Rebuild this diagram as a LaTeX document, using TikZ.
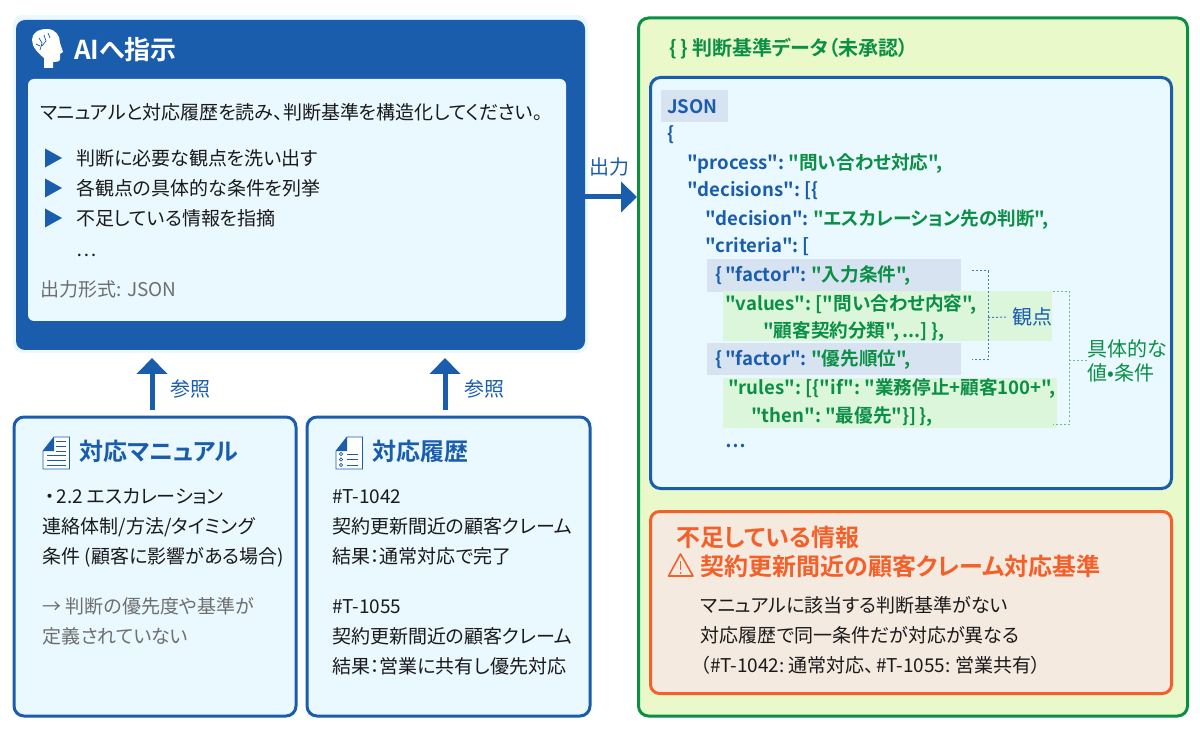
\documentclass[tikz,border=0pt]{standalone}
\usepackage{fontspec}
\defaultfontfeatures[\rmfamily]{}
\setmainfont{Noto Sans CJK JP}[RawFeature=+palt,BoldFont={Noto Sans CJK JP Bold}]
\usetikzlibrary{arrows.meta}
\definecolor{bl}{HTML}{1A5DAD}
\definecolor{lb}{HTML}{EAF8FF}
\definecolor{gr}{HTML}{0A8F45}
\definecolor{gp}{HTML}{E9F9CA}
\definecolor{or}{HTML}{F4602A}
\definecolor{op}{HTML}{F5EAE0}
\definecolor{hb}{HTML}{D8E3F1}
\definecolor{hg}{HTML}{DCF6DC}
\definecolor{tx}{HTML}{1A1A1A}
\definecolor{gy}{HTML}{6E6E6E}
\tikzset{x=1pt,y=-1pt,
 txt/.style={anchor=west,inner sep=0pt,text=tx,text height=19pt,text depth=4.6pt,font=\fontsize{19}{22}\selectfont},
 jb/.style={anchor=west,inner sep=0pt,text=bl,text height=18.6pt,text depth=4.5pt,yshift=1pt,font={\fontsize{18.6}{20}\selectfont\bfseries\spaceskip=.15em\relax}},
 panel/.style={draw=bl,line width=3pt,fill=lb,rounded corners=10pt},
 bigarrow/.style={draw=bl,line width=5pt,-{Triangle[length=16pt,width=30pt]}},
 dotb/.style={draw=bl!80,line width=1pt,dash pattern=on 2pt off 2pt},
 dotg/.style={draw=gr!60,line width=1pt,dash pattern=on 2pt off 2pt},
 hd/.style={anchor=west,inner sep=0pt,text=bl,font=\fontsize{24}{28}\selectfont\bfseries},
}
\newcommand{\Jg}[1]{\textcolor{gr}{#1}}
\begin{document}
\begin{tikzpicture}
\useasboundingbox (0,0) rectangle (1200,735);
\fill[white] (0,0) rectangle (1200,735);
% AI box
\fill[lb,rounded corners=10pt] (13,15) rectangle (588,353);
\fill[bl,rounded corners=9pt] (16,20) rectangle (585,350);
\coordinate (aibot) at (152,350);
\coordinate (aibot2) at (445,350);
\fill[lb,rounded corners=6pt] (28,79) rectangle (566,321);
% head icon
\fill[white] (44,68) -- (44,58) .. controls (38,53) and (32,47) .. (32,40) .. controls (32,33) and (38,29) .. (47,29) .. controls (56,29) and (60,36) .. (60,43) -- (63,52) -- (60,54) -- (60,59) .. controls (60,62) and (56,62) .. (53,62) -- (53,68) -- cycle;
\draw[bl,line width=.7pt] (39,38)--(42,43)--(40,50) (44,35)--(46,41)--(42,46) (48,33)--(50,38) (36,44)--(40,46);
\node[anchor=west,inner sep=0pt,text=white,font=\fontsize{26}{30}\selectfont\bfseries] (aititle) at (74,50) {AIへ指示};
\node[txt] (t1) at (40,112) {マニュアルと対応履歴を読み、判断基準を構造化してください。};
\foreach \y/\n/\s in {158/a/判断に必要な観点を洗い出す,188/b/各観点の具体的な条件を列挙,218/c/不足している情報を指摘}{
 \fill[bl] (45,\y-9.5) -- (62,\y) -- (45,\y+9.5) -- cycle;
 \node[txt] (l\n) at (76,\y) {\s};
}
\node[txt] (ld) at (76,249) {…};
\node[txt,text=gy] (fmt) at (40,289) {出力形式: JSON};
% Manual
\node[panel,minimum width=282pt,minimum height=299pt,inner sep=0pt] (man) at (155,566.5) {};
\node[panel,minimum width=283pt,minimum height=299pt,inner sep=0pt] (his) at (448.5,566.5) {};
% doc icons
\begin{scope}[bl,line width=.8pt]
\draw[fill=white] (43,451) -- (54,437) -- (69.5,437) -- (69.5,469) -- (43,469) -- cycle;
\fill (43,451) -- (54,437) -- (54,451) -- cycle;
\draw (56,441)--(66,441) (56,446)--(66,446) (56,451)--(66,451);
\draw (47,455)--(66,455) (47,460)--(66,460) (47,465)--(66,465);
\draw[fill=white] (336,451) -- (347,437) -- (362.5,437) -- (362.5,469) -- (336,469) -- cycle;
\fill (336,451) -- (347,437) -- (347,451) -- cycle;
\draw (347,454)--(358,454) (347,459.5)--(358,459.5) (347,465)--(358,465);
\draw (341,454) circle (1.6) (341,459.5) circle (1.6) (341,465) circle (1.6);
\end{scope}
\node[hd] (mt) at (79,451) {対応マニュアル};
\node[hd] (ht) at (372,451) {対応履歴};
\node[txt] (m1) at (45,496) {・\kern 2pt 2.2 エスカレーション};
\node[txt] (m2) at (42.5,526) {連絡体制/方法/タイミング};
\node[txt] (m3) at (42.5,556) {条件 (顧客に影響がある場合)};
\node[txt,text=gy] (m4) at (42.5,606) {→ 判断の優先度や基準が};
\node[txt,text=gy] (m5) at (42.5,636) {定義されていない};
\node[txt] (h1) at (332,496) {\#T-1042};
\node[txt] (h2) at (332,526) {契約更新間近の顧客クレーム};
\node[txt] (h3) at (332,556) {結果：通常対応で完了};
\node[txt] (h4) at (332,606) {\#T-1055};
\node[txt] (h5) at (332,636) {契約更新間近の顧客クレーム};
\node[txt] (h6) at (332,666) {結果：営業に共有し優先対応};
% Green panel
\node[draw=gr,line width=3pt,fill=gp,rounded corners=10pt,minimum width=549pt,minimum height=698pt,inner sep=0pt] (gpanel) at (913,367) {};
\node[anchor=west,inner sep=0pt,text=gr,font=\fontsize{20}{22}\selectfont\bfseries] (gt) at (669,49) {\{\,\} 判断基準データ（未承認）};
\node[panel,minimum width=521pt,minimum height=411pt,inner sep=0pt] (json) at (911,283) {};
\fill[hb] (661,90) rectangle (728,122);
\fill[hb] (707,259) rectangle (961,292);
\fill[hb] (707,343) rectangle (961,375);
\fill[hg] (723,291) rectangle (1052,341);
\fill[hg] (723,378) rectangle (1057,428);
\node[jb] (j0) at (667,107) {JSON};
\node[jb] (j1) at (667,134) {\{};
\node[jb] (j2) at (687,163) {"process": \Jg{"問い合わせ対応",}};
\node[jb] (j3) at (687,190) {"decisions": [\{};
\node[jb] (j4) at (705,219) {"decision": \Jg{"エスカレーション先の判断",}};
\node[jb] (j5) at (705,246) {"criteria": [};
\node[jb] (j6) at (715,275) {\{\kern 3pt "factor": \Jg{"入力条件",}};
\node[jb,text=gr] (j7) at (725,304) {"values": ["問い合わせ内容",};
\node[jb,text=gr] (j8) at (763,331) {"顧客契約分類", ...] \},};
\node[jb] (j9) at (715,359) {\{\kern 3pt "factor": \Jg{"優先順位",}};
\node[jb,text=gr] (j10) at (728,388) {"rules": [\{"if": "業務停止+顧客100+",};
\node[jb,text=gr] (j11) at (751,416) {"then": "最優先"\}] \},};
\node[jb,text=bl] (j12) at (725,441) {…};
% brackets
\node[anchor=west,inner sep=0pt,text=bl,font=\fontsize{20}{22}\selectfont] (kan) at (1012,317) {観点};
\node[anchor=west,inner sep=0pt,align=left,text=gr,font=\fontsize{20}{24}\selectfont] (gu) at (1087,361) {具体的な\\値•条件};
\coordinate (b1) at (972,270.7); \coordinate (b2) at (972,360);
\coordinate (g1) at (1053,291.5); \coordinate (g2) at (1053,424);
\draw[dotb] (b1) -- (988,270.7) -- (988,360) -- (b2);
\draw[dotb,shorten >=5pt] (988,317.5) -- (kan.west);
\draw[dotg] (g1) -- (1069,291.5) -- (1069,424) -- (g2);
\draw[dotg] (1069,361) -- (gu.west);
% Orange
\node[draw=or,line width=3pt,fill=op,rounded corners=9pt,minimum width=521pt,minimum height=182pt,inner sep=0pt] (ob) at (911,602.5) {};
\node[anchor=west,inner sep=0pt,text=or,font=\fontsize{24}{28}\selectfont\bfseries] (o1) at (676,537) {不足している情報};
\node[anchor=west,inner sep=0pt,text=or,font=\fontsize{24}{28}\selectfont\bfseries] (o2) at (700.5,566) {契約更新間近の顧客クレーム対応基準};
\draw[or,line width=1.6pt,line join=round] (680.5,554) -- (693,576) -- (668.5,576) -- cycle;
\draw[or,line width=1.6pt] (680.5,561) -- (680.5,570);
\fill[or] (680.5,573) circle (1);
\node[txt] (o3) at (700.5,605) {マニュアルに該当する判断基準がない};
\node[txt] (o4) at (700.5,635) {対応履歴で同一条件だが対応が異なる};
\node[txt] (o5) at (700.5,665) {（\#T-1042:\kern 4pt 通常対応、\kern 2pt\#T-1055:\kern 5pt 営業共有）};
% Arrows
\draw[bigarrow] (585,197) -- (gpanel.west |- 0,197);
\node[anchor=center,inner sep=0pt,text=bl,font=\fontsize{20}{22}\selectfont] (out) at (609,167) {出力};
\draw[bigarrow,shorten <=6pt,shorten >=8pt] (man.north -| aibot) -- (aibot);
\draw[bigarrow,shorten <=6pt,shorten >=8pt] (his.north -| aibot2) -- (aibot2);
\node[anchor=west,inner sep=0pt,text=bl,font=\fontsize{20}{22}\selectfont] (r1) at (170,389) {参照};
\node[anchor=west,inner sep=0pt,text=bl,font=\fontsize{20}{22}\selectfont] (r2) at (464,389) {参照};
\end{tikzpicture}
\end{document}
